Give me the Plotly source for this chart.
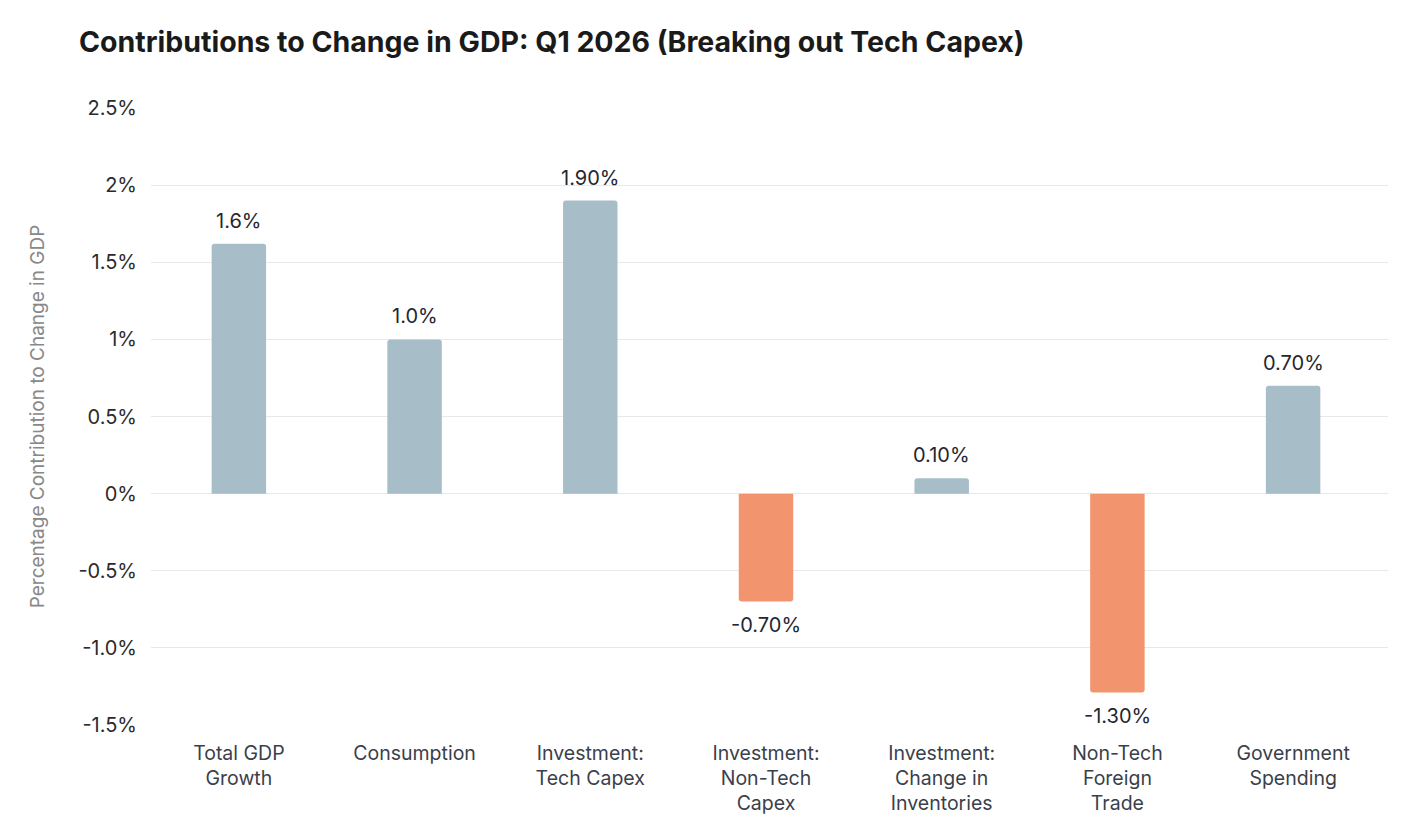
import plotly.graph_objects as go

categories = [
    "Total GDP<br>Growth",
    "Consumption",
    "Investment:<br>Tech Capex",
    "Investment:<br>Non-Tech<br>Capex",
    "Investment:<br>Change in<br>Inventories",
    "Non-Tech<br>Foreign<br>Trade",
    "Government<br>Spending",
]
values = [1.62, 1.0, 1.90, -0.70, 0.10, -1.29, 0.70]
value_labels = ["1.6%", "1.0%", "1.90%", "-0.70%", "0.10%", "-1.30%", "0.70%"]
tick_vals = [-1.5, -1.0, -0.5, 0, 0.5, 1, 1.5, 2, 2.5]
tick_text = ["-1.5%", "-1.0%", "-0.5%", "0%", "0.5%", "1%", "1.5%", "2%", "2.5%"]

POS_COLOR = "#A7BEC9"
NEG_COLOR = "#F2956E"
FONT = "Inter, Roboto, sans-serif"

fig = go.Figure(
    data=[
        go.Bar(
            x=categories,
            y=values,
            marker=dict(
                color=[POS_COLOR if v >= 0 else NEG_COLOR for v in values],
                cornerradius=3,
                line=dict(width=0)
            ),
            hoverinfo="skip"
        )
    ],
    layout=go.Layout(
        title=go.layout.Title(
            text="<b>Contributions to Change in GDP: Q1 2026 (Breaking out Tech Capex)</b>",
            font=dict(family=FONT, size=28.5, color="#1a1a1a"),
            x=71 / 1419,
            xanchor="left",
            xref="container",
            y=1 - 34 / 832,
            yanchor="middle",
            yref="container"
        )
    )
)

# value labels above positive bars, below negative ones
for cat, val, label in zip(categories, values, value_labels):
    fig.add_annotation(
        x=cat,
        y=val,
        text=label,
        showarrow=False,
        yanchor="bottom" if val >= 0 else "top",
        yshift=9 if val >= 0 else -9,
        font=dict(family=FONT, size=20, color="#24272f")
    )

fig.update_layout(
    width=1419,
    height=832,
    margin=dict(l=143, r=39, t=100, b=115),
    plot_bgcolor="white",
    paper_bgcolor="white",
    bargap=0.69,
    showlegend=False,
    font=dict(family=FONT)
)
fig.update_xaxes(
    type="category",
    range=[-0.5, 6.54],
    showgrid=False,
    showline=False,
    zeroline=False,
    ticks="",
    ticklabelstandoff=14,
    tickfont=dict(family=FONT, size=19.5, color="#3a3f4b")
)
fig.update_yaxes(
    range=[-1.5, 2.5],
    tickvals=tick_vals,
    ticktext=tick_text,
    showgrid=True,
    gridcolor="#E8E8E8",
    gridwidth=1,
    zeroline=True,
    zerolinecolor="#E8E8E8",
    zerolinewidth=1,
    showline=False,
    ticklabelstandoff=13,
    tickfont=dict(family=FONT, size=20, color="#2b2b2b"),
    title=dict(
        text="Percentage Contribution to Change in GDP",
        font=dict(family=FONT, size=19, color="#888888"),
        standoff=28
    )
)
fig.write_html("out.html")
